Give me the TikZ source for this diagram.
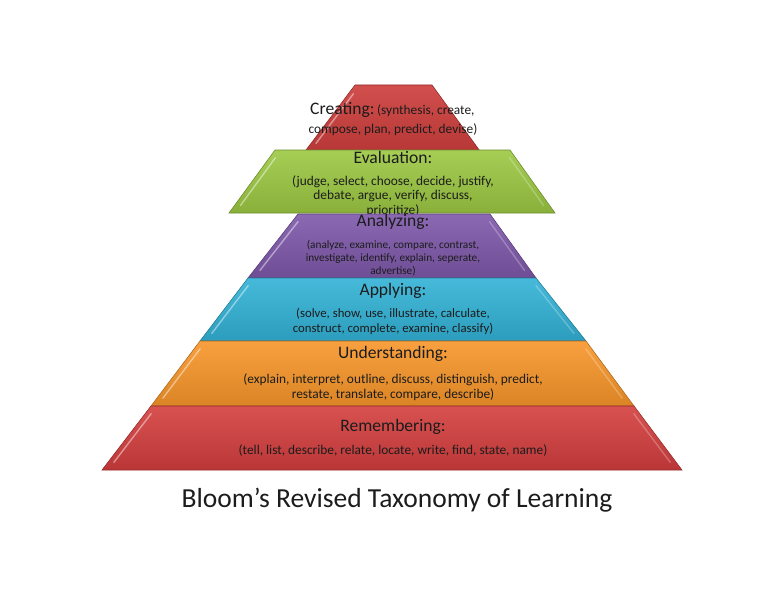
\documentclass[tikz,border=0pt]{standalone}
\usepackage{fontspec}
\setmainfont{Carlito}
\usetikzlibrary{calc}
\definecolor{creatingred}{RGB}{204,60,58}
\definecolor{evalgreen}{RGB}{156,200,66}
\definecolor{analyzepurple}{RGB}{126,88,170}
\definecolor{applyblue}{RGB}{50,178,214}
\definecolor{understandorange}{RGB}{248,150,42}
\definecolor{rememberred}{RGB}{212,62,62}
\definecolor{labeltext}{RGB}{28,28,28}

\begin{document}
\begin{tikzpicture}[
			x=0.03cm,y=-0.03cm,
			layer/.style={
				draw=#1!70!black,
				line width=0.5pt,
				top color=#1!90!white,
				bottom color=#1!88!black
			},
			bevel/.style={
				draw=white,
				draw opacity=0.45,
				line width=1.2pt,
				line cap=round
			},
			heading/.style={
				text=labeltext,
				align=center,
				inner sep=0pt,
				font=\fontsize{15}{18}\selectfont
			},
			terms/.style={
				text=labeltext,
				align=center,
				inner sep=0pt,
				font=\fontsize{11.4}{12.6}\selectfont
			}
			]
			
			\useasboundingbox (0,0) rectangle (768,594);
			
			% Creating
			\draw[layer=creatingred]
			(355,85) coordinate (ctl) -- (432,85) coordinate (ctr)
			-- (485,158) coordinate (cbr) -- (300,158) coordinate (cbl) -- cycle;
			\draw[bevel] ($(ctl)!0.12!(cbl)+(5,0)$) -- ($(ctl)!0.8!(cbl)+(5,0)$);
			\node[heading,anchor=base west] (creating) at (310,115) {Creating:};
			\node[terms,anchor=base west] (creatingterms) at (creating.base east) {\,(synthesis, create,};
			\node[terms,anchor=base] (creatingmore) at (393,133) {compose, plan, predict, devise)};
			
			% Evaluation
			\draw[layer=evalgreen]
			(275,150) coordinate (etl) -- (510,150) coordinate (etr)
			-- (555,213) coordinate (ebr) -- (229,213) coordinate (ebl) -- cycle;
			\draw[bevel] ($(etl)!0.12!(ebl)+(6,0)$) -- ($(etl)!0.88!(ebl)+(6,0)$);
			\draw[bevel,draw opacity=0.25] ($(etr)!0.12!(ebr)+(-6,0)$) -- ($(etr)!0.88!(ebr)+(-6,0)$);
			\node[heading] (evaluation) at (393,157) {Evaluation:};
			\node[terms] (evaluationterms) at (393,196) {%
				(judge, select, choose, decide, justify,\\
				debate, argue, verify, discuss,\\
				prioritize)};
			
			% Analyzing
			\draw[layer=analyzepurple]
			(298,214) coordinate (atl) -- (490,214) coordinate (atr)
			-- (536,278) coordinate (abr) -- (248,278) coordinate (abl) -- cycle;
			\draw[bevel] ($(atl)!0.12!(abl)+(6,0)$) -- ($(atl)!0.88!(abl)+(6,0)$);
			\draw[bevel,draw opacity=0.25] ($(atr)!0.12!(abr)+(-6,0)$) -- ($(atr)!0.88!(abr)+(-6,0)$);
			\node[heading] (analyzing) at (393,222) {Analyzing:};
			\node[terms,font=\fontsize{9.6}{11}\selectfont] (analyzingterms) at (393,258) {%
				(analyze, examine, compare, contrast,\\
				investigate, identify, explain, seperate,\\
				advertise)};
			
			% Applying
			\draw[layer=applyblue]
			(248,278) coordinate (ptl) -- (536,278) coordinate (ptr)
			-- (586,341) coordinate (pbr) -- (200,341) coordinate (pbl) -- cycle;
			\draw[bevel] ($(ptl)!0.12!(pbl)+(6,0)$) -- ($(ptl)!0.88!(pbl)+(6,0)$);
			\draw[bevel,draw opacity=0.25] ($(ptr)!0.12!(pbr)+(-6,0)$) -- ($(ptr)!0.88!(pbr)+(-6,0)$);
			\node[heading] (applying) at (393,291) {Applying:};
			\node[terms,font=\fontsize{10.9}{12.6}\selectfont] (applyingterms) at (393,321.5) {%
				(solve, show, use, illustrate, calculate,\\
				construct, complete, examine, classify)};
			
			% Understanding
			\draw[layer=understandorange]
			(200,341) coordinate (utl) -- (586,341) coordinate (utr)
			-- (634,406) coordinate (ubr) -- (151,406) coordinate (ubl) -- cycle;
			\draw[bevel] ($(utl)!0.12!(ubl)+(6,0)$) -- ($(utl)!0.88!(ubl)+(6,0)$);
			\draw[bevel,draw opacity=0.25] ($(utr)!0.12!(ubr)+(-6,0)$) -- ($(utr)!0.88!(ubr)+(-6,0)$);
			\node[heading] (understanding) at (393,354) {Understanding:};
			\node[terms] (understandingterms) at (393,387) {%
				(explain, interpret, outline, discuss, distinguish, predict,\\
				restate, translate, compare, describe)};
			
			% Remembering
			\draw[layer=rememberred]
			(151,406) coordinate (rtl) -- (634,406) coordinate (rtr)
			-- (682,470) coordinate (rbr) -- (102,470) coordinate (rbl) -- cycle;
			\draw[bevel] ($(rtl)!0.12!(rbl)+(6,0)$) -- ($(rtl)!0.88!(rbl)+(6,0)$);
			\draw[bevel,draw opacity=0.25] ($(rtr)!0.12!(rbr)+(-6,0)$) -- ($(rtr)!0.88!(rbr)+(-6,0)$);
			\node[heading] (remembering) at (393,427) {Remembering:};
			\node[terms] (rememberingterms) at (393,451) {%
				(tell, list, describe, relate, locate, write, find, state, name)};
			
			% Title
			\node[font=\fontsize{23.5}{28}\selectfont,text=labeltext] (title) at (397,500) {Bloom’s Revised Taxonomy of Learning};
			
		\end{tikzpicture}
\end{document}
